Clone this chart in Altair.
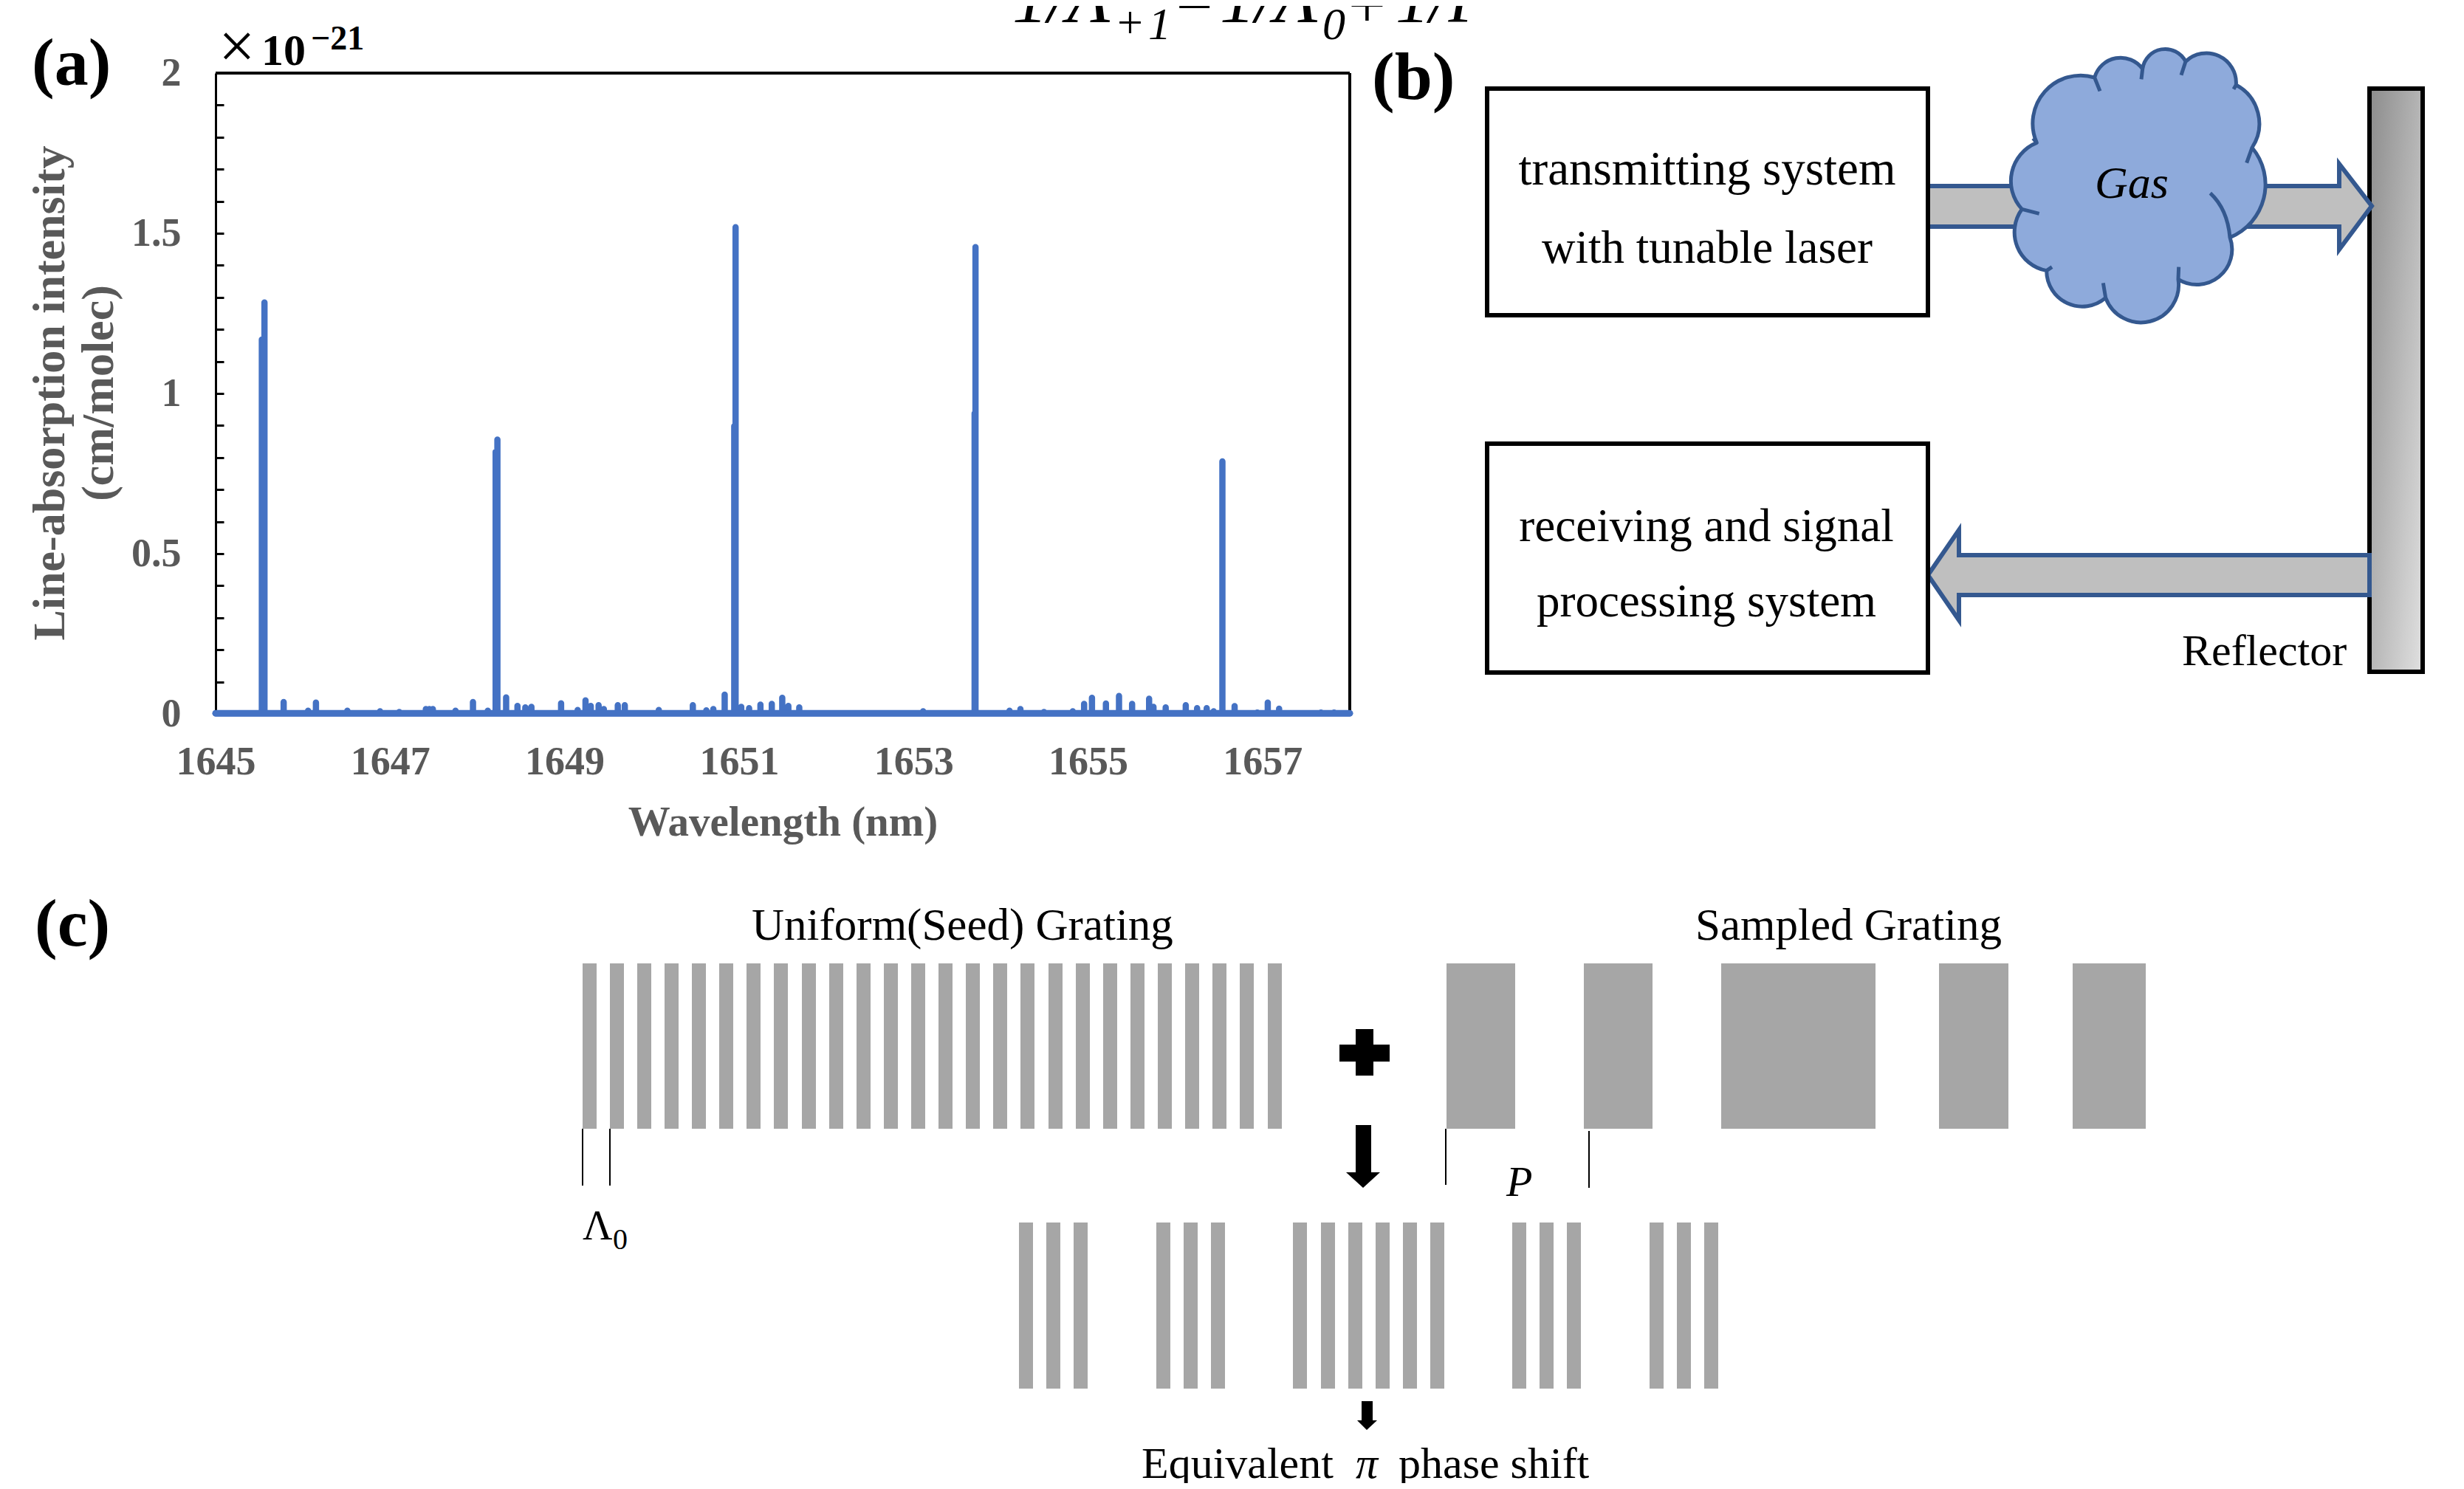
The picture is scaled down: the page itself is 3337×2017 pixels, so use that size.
import altair as alt
import pandas as pd

SERIF = "Liberation Serif"
W, H = 3321, 2001

# ---------- panel (a): spectrum ----------
PEAK_NM = [1645.53, 1645.56, 1645.78, 1646.06, 1646.15, 1646.51, 1646.885, 1647.105, 1647.41, 1647.45, 1647.49,
           1647.75, 1647.95, 1648.12, 1648.21, 1648.23, 1648.33, 1648.46, 1648.55, 1648.62, 1648.96, 1649.15,
           1649.24, 1649.30, 1649.39, 1649.45, 1649.61, 1649.69, 1650.08, 1650.47, 1650.625, 1650.705, 1650.835,
           1650.945, 1650.96, 1651.025, 1651.115, 1651.245, 1651.375, 1651.495, 1651.565, 1651.69, 1653.11, 1653.70,
           1653.71, 1654.10, 1654.225, 1654.495, 1654.825, 1654.955, 1655.045, 1655.205, 1655.355, 1655.505, 1655.70,
           1655.75, 1655.89, 1656.12, 1656.25, 1656.36, 1656.44, 1656.54, 1656.68, 1656.94, 1657.06, 1657.19,
           1657.67, 1657.82]
PEAK_VAL = [1.168, 1.284, .037, .010, .035, .010, .008, .006, .015, .015, .015,
            .010, .037, .010, .818, .856, .051, .025, .020, .022, .033, .012,
            .042, .025, .027, .015, .027, .027, .012, .027, .011, .015, .060,
            .898, 1.519, .022, .018, .029, .031, .050, .025, .020, .008, .938,
            1.457, .010, .015, .006, .008, .031, .050, .032, .056, .031, .047,
            .022, .020, .027, .018, .018, .008, .788, .024, .004, .035, .016,
            .004, .004]
BASE = 0.002
X_TICKS = [1645, 1647, 1649, 1651, 1653, 1655, 1657]
Y_LABELS = [0, 0.5, 1, 1.5, 2]
Y_MINOR = [0, .1, .2, .3, .4, .5, .6, .7, .8, .9, 1, 1.1, 1.2, 1.3, 1.4, 1.5, 1.6, 1.7, 1.8, 1.9, 2]

# ---------- panel (b) ----------
BOX_X = [2014, 2014]
BOX_X2 = [2611, 2611]
BOX_Y = [120, 601]
BOX_Y2 = [427, 911]
ARROW1 = [(2600, 252), (3168, 252), (3168, 222), (3212, 279), (3168, 338), (3168, 307), (2600, 307)]
ARROW2 = [(3209, 752), (2653, 752), (2653, 718), (2611, 779), (2653, 840), (2653, 806), (3209, 806)]
# cloud: crease points and lobe radii, in a 1200-unit square
CREASES = [(175, 430), (410, 165), (605, 130), (780, 100), (985, 195), (1050, 450), (960, 815), (750, 985),
           (455, 1060), (215, 950), (115, 700)]
LOBE_R = [195, 110, 93, 121, 178, 233, 143, 153, 145, 159, 168]
HOOKS = [((410, 165), (432, 220)), ((605, 130), (600, 172)), ((780, 100), (762, 155)), ((985, 195), (975, 212)),
         ((1050, 450), (1028, 512)), ((750, 985), (752, 935)), ((455, 1060), (445, 1000)),
         ((215, 950), (237, 935)), ((115, 700), (185, 718)), ((175, 430), (160, 412))]

# ---------- panel (c) ----------
SEED_X = [789, 826, 863, 900, 937, 974, 1011, 1048, 1086, 1123, 1160, 1197, 1234, 1271, 1308, 1345, 1382, 1420,
          1457, 1494, 1531, 1568, 1605, 1642, 1679, 1717]
SAMPLE_X = [1959, 2145, 2331, 2626, 2807]
SAMPLE_X2 = [2052, 2238, 2540, 2720, 2906]
EQUIV_X = [1380, 1417, 1454, 1566, 1603, 1640, 1751, 1789, 1826, 1863, 1900, 1937, 2048, 2085, 2122, 2234, 2271, 2308]
THIN_X = [789, 826, 1958, 2152]
THIN_Y = [1529, 1529, 1529, 1532]
THIN_Y2 = [1606, 1606, 1605, 1609]
PLUS_X = [1814, 1836]
PLUS_X2 = [1882, 1860]
PLUS_Y = [1415, 1394]
PLUS_Y2 = [1438, 1457]
DOWN1 = [(1836, 1524), (1857, 1524), (1857, 1588), (1869, 1588), (1846, 1609), (1823, 1588), (1836, 1588)]
DOWN2 = [(1844, 1898), (1859, 1898), (1859, 1924), (1865, 1924), (1851, 1937), (1838, 1924), (1844, 1924)]

TEXTS = [
    # text, x, y, size, weight, style, color, align
    ("(a)", 43, 115, 92, "bold", "normal", "black", "left"),
    ("(b)", 1858, 134, 92, "bold", "normal", "black", "left"),
    ("(c)", 47, 1281, 92, "bold", "normal", "black", "left"),
    ("×", 296, 92, 88, "normal", "normal", "black", "left"),
    ("10", 354, 88, 60, "bold", "normal", "black", "left"),
    ("−21", 421, 67, 46, "bold", "normal", "black", "left"),
    ("1/Λ", 1371, 30, 96, "normal", "italic", "black", "left"),
    ("+", 1513, 51, 62, "normal", "normal", "black", "left"),
    ("1", 1555, 53, 62, "normal", "italic", "black", "left"),
    ("−", 1593, 38, 88, "normal", "normal", "black", "left"),
    ("1/Λ", 1652, 30, 96, "normal", "italic", "black", "left"),
    ("0", 1791, 53, 62, "normal", "italic", "black", "left"),
    ("+", 1826, 37, 90, "normal", "normal", "black", "left"),
    ("1/P", 1890, 30, 92, "normal", "italic", "black", "left"),
    ("transmitting system", 2312, 250, 65, "normal", "normal", "black", "center"),
    ("with tunable laser", 2312, 356, 63, "normal", "normal", "black", "center"),
    ("receiving and signal", 2311, 733, 63, "normal", "normal", "black", "center"),
    ("processing system", 2311, 835, 63, "normal", "normal", "black", "center"),
    ("Reflector", 2955, 901, 60, "normal", "normal", "black", "left"),
    ("Uniform(Seed) Grating", 1018, 1273, 61, "normal", "normal", "black", "left"),
    ("Sampled Grating", 2296, 1273, 61, "normal", "normal", "black", "left"),
    ("Λ", 789, 1679, 56, "normal", "normal", "black", "left"),
    ("0", 830, 1692, 40, "normal", "normal", "black", "left"),
    ("P", 2040, 1620, 58, "normal", "italic", "black", "left"),
    ("Equivalent", 1546, 2002, 60, "normal", "normal", "black", "left"),
    ("π", 1836, 2002, 60, "normal", "italic", "black", "left"),
    ("phase shift", 1894, 2002, 60, "normal", "normal", "black", "left"),
]

# ---------- scales ----------
XS = alt.Scale(domain=[8, 8 + W], range=[0, W], nice=False, zero=False)
YS = alt.Scale(domain=[8 + H, 8], range=[H, 0], nice=False, zero=False)
AX = alt.Scale(domain=[1645, 1658], range=[284, 1820], nice=False, zero=False)
AY = alt.Scale(domain=[0, 2], range=[959, 91], nice=False, zero=False)


def fx(f="x"):
    return alt.X(f"{f}:Q", scale=XS, axis=None)


def fy(f="y"):
    return alt.Y(f"{f}:Q", scale=YS, axis=None)


def rects(x, x2, y, y2, **mark):
    df = pd.DataFrame({"x": x, "x2": x2, "y": y, "y2": y2})
    return alt.Chart(df).mark_rect(**mark).encode(x=fx(), x2="x2:Q", y=fy(), y2="y2:Q")


def polygon(points, **mark):
    xs = [p[0] for p in points]
    ys = [p[1] for p in points]
    cx, cy = (min(xs) + max(xs)) / 2, (min(ys) + max(ys)) / 2
    half = max(max(xs) - min(xs), max(ys) - min(ys)) / 2
    path = "M" + "L".join(f"{round((x - cx) / half, 4)} {round((y - cy) / half, 4)}" for x, y in points) + "Z"
    return alt.Chart(pd.DataFrame({"x": [cx], "y": [cy]})).mark_point(
        shape=path, size=(2 * half) ** 2, filled=False, opacity=1, fillOpacity=1, **mark).encode(x=fx(), y=fy())


def text_layer(t):
    s, x, y, size, weight, style, color, align = t
    df = pd.DataFrame({"x": [x], "y": [y], "t": [s]})
    return alt.Chart(df).mark_text(font=SERIF, fontSize=size, fontWeight=weight, fontStyle=style, color=color,
                                   align=align, baseline="alphabetic").encode(x=fx(), y=fy(), text="t:N")


# ---------- panel (a) layers ----------
rows = [{"nm": 1645.0, "v": BASE}]
for nm, val in zip(PEAK_NM, PEAK_VAL):
    rows += [{"nm": nm, "v": BASE}, {"nm": nm, "v": val}, {"nm": nm, "v": BASE}]
rows.append({"nm": 1658.0, "v": BASE})
spec = pd.DataFrame(rows)
spec["i"] = range(len(spec))

line = alt.Chart(spec).mark_line(color="#4472c4", strokeWidth=8.5, strokeJoin="round", strokeCap="round").encode(
    x=alt.X("nm:Q", scale=AX, axis=alt.Axis(
        orient="bottom", offset=-1042, values=X_TICKS, format="d", ticks=False, domain=False, grid=False,
        labelFont=SERIF, labelFontSize=54, labelFontWeight="bold", labelColor="#595959", labelPadding=38,
        labelFlush=False, labelOverlap=False, title="Wavelength (nm)", titleFont=SERIF, titleFontSize=57,
        titleFontWeight="bold", titleColor="#595959", titleX=1052, titleY=164, titleBaseline="alphabetic",
        titleAlign="center")),
    y=alt.Y("v:Q", scale=AY, axis=alt.Axis(
        orient="left", offset=-284, values=Y_LABELS, labelExpr="datum.value", ticks=False, domain=True,
        domainColor="black", domainWidth=3, grid=False, labelFont=SERIF, labelFontSize=54, labelFontWeight="bold",
        labelColor="#595959", labelPadding=47, labelOverlap=False, labelFlush=False,
        title=["Line-absorption intensity", "(cm/molec)"], titleFont=SERIF, titleFontSize=62, titleFontWeight="bold",
        titleColor="#595959", titleAngle=270, titleX=-206, titleY=524, titleAlign="center", titleBaseline="alphabetic",
        titleLineHeight=66)),
    order="i:Q")

frame_df = pd.DataFrame({"nm": [1645, 1658], "nm2": [1658, 1658], "v": [2, 0], "v2": [2, 2]})
frame = alt.Chart(frame_df).mark_rule(color="black", strokeWidth=4).encode(
    x=alt.X("nm:Q", scale=AX, axis=None), x2="nm2:Q",
    y=alt.Y("v:Q", scale=AY, axis=alt.Axis(
        orient="right", offset=284 - W, values=Y_MINOR, labels=False, ticks=True, tickSize=11, tickWidth=3,
        tickColor="black", domain=False, grid=False, title=None)),
    y2="v2:Q")

base_df = pd.DataFrame({"nm": [1645], "nm2": [1658], "v": [BASE]})
baseline = alt.Chart(base_df).mark_rule(color="#4472c4", strokeWidth=9, strokeCap="round").encode(
    x=alt.X("nm:Q", scale=AX, axis=None), x2="nm2:Q", y=alt.Y("v:Q", scale=AY, axis=None))

panel_a = alt.layer(frame, line, baseline).resolve_axis(x="independent", y="independent")

# ---------- diagram layers ----------
box = rects(BOX_X, BOX_X2, BOX_Y, BOX_Y2, fill="white", stroke="black", strokeWidth=6)

grad = alt.LinearGradient(gradient="linear", x1=0, y1=0, x2=1, y2=1,
                          stops=[alt.GradientStop(offset=0, color="#8c8c8c"),
                                 alt.GradientStop(offset=1, color="#e0e0e0")])
reflector = rects([3209], [3281], [120], [910], fill=grad, stroke="black", strokeWidth=6)


def cloud_path():
    def n(v):
        return round((v - 600) / 600, 4)
    p = [f"M{n(CREASES[0][0])} {n(CREASES[0][1])}"]
    for i, r in enumerate(LOBE_R):
        ex, ey = CREASES[(i + 1) % len(CREASES)]
        rr = round(r / 600, 4)
        p.append(f"A{rr} {rr} 0 0 1 {n(ex)} {n(ey)}")
    p.append("Z")
    for a, b in HOOKS:
        p.append(f"M{n(a[0])} {n(a[1])}L{n(b[0])} {n(b[1])}")
    p.append(f"M{n(880)} {n(635)}Q{n(950)} {n(700)} {n(960)} {n(815)}")
    return "".join(p)


cloud = alt.Chart(pd.DataFrame({"x": [2900], "y": [250]})).mark_point(
    shape=cloud_path(), size=400 ** 2, filled=False, fill="#8eaadb", stroke="#34588f", strokeWidth=5,
    opacity=1, fillOpacity=1, strokeJoin="round").encode(x=fx(), y=fy())
gas = text_layer(("Gas", 2837, 268, 62, "normal", "italic", "black", "left"))

GRAY = "#a6a6a6"
seed = rects(SEED_X, [v + 19 for v in SEED_X], [1305] * len(SEED_X), [1529] * len(SEED_X), color=GRAY)
sampled = rects(SAMPLE_X, SAMPLE_X2, [1305] * 5, [1529] * 5, color=GRAY)
equiv = rects(EQUIV_X, [v + 19 for v in EQUIV_X], [1656] * len(EQUIV_X), [1881] * len(EQUIV_X), color=GRAY)
thin_df = pd.DataFrame({"x": THIN_X, "y": THIN_Y, "y2": THIN_Y2})
thin = alt.Chart(thin_df).mark_rule(color="black", strokeWidth=2).encode(x=fx(), y=fy(), y2="y2:Q")
plus = rects(PLUS_X, PLUS_X2, PLUS_Y, PLUS_Y2, color="black")

diagram = alt.layer(
    reflector,
    polygon(ARROW1, fill="#bfbfbf", stroke="#34588f", strokeWidth=6, strokeJoin="miter"),
    polygon(ARROW2, fill="#bfbfbf", stroke="#34588f", strokeWidth=6, strokeJoin="miter"),
    box,
    cloud, gas, seed, sampled, equiv, thin, plus,
    polygon(DOWN1, fill="black", stroke="black", strokeWidth=0),
    polygon(DOWN2, fill="black", stroke="black", strokeWidth=0),
    *[text_layer(t) for t in TEXTS],
)

chart = (
    alt.layer(panel_a, diagram)
    .resolve_scale(x="independent", y="independent")
    .properties(width=W, height=H, padding=0, background="white",
                autosize=alt.AutoSizeParams(type="none"))
    .configure_view(stroke=None)
)

chart.save("out.html", embed_options={"renderer": "svg", "actions": False})
